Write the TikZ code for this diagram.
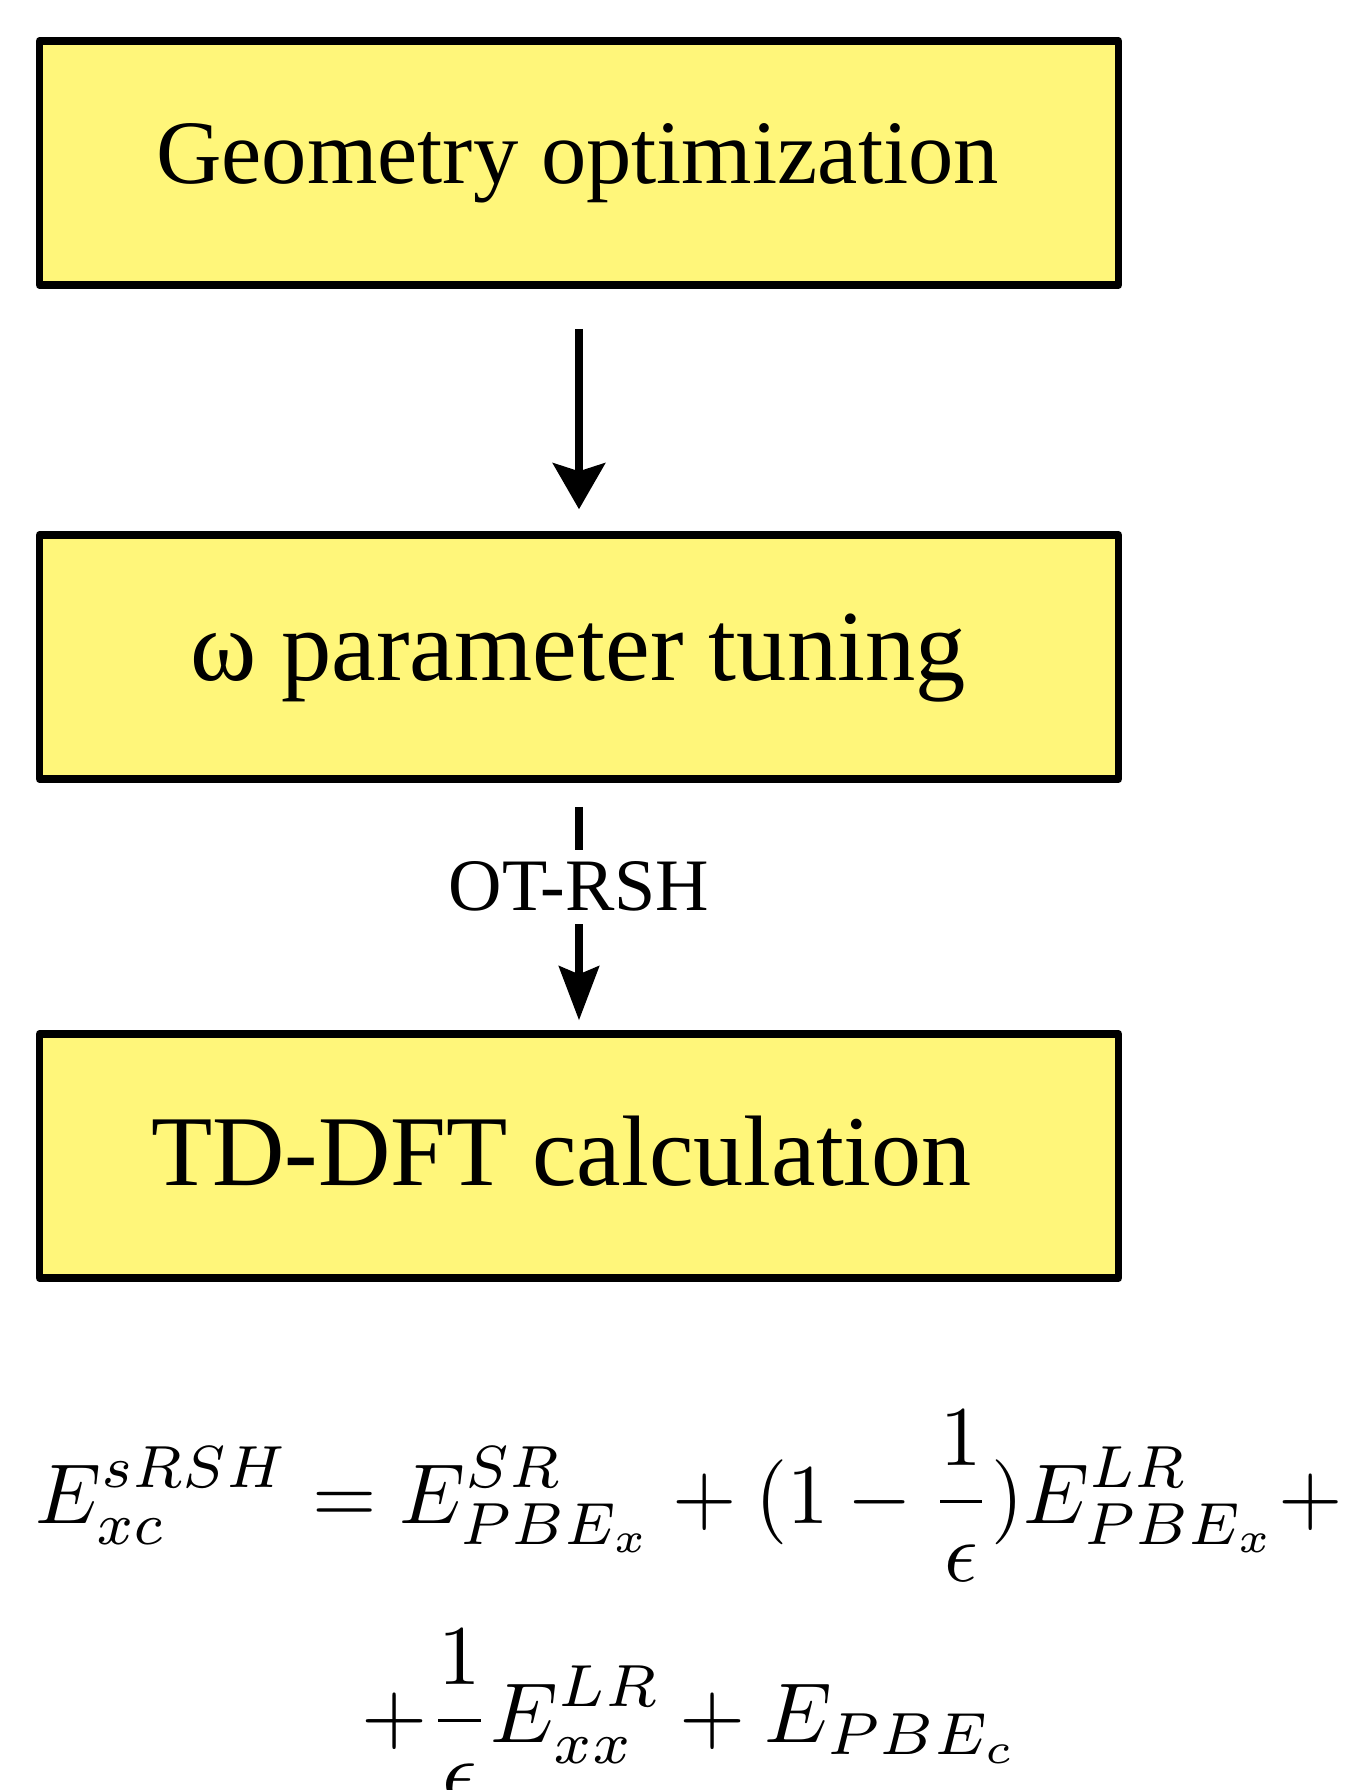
\documentclass[tikz,border=0pt]{standalone}
\usepackage[no-math]{fontspec}
\setmainfont{Liberation Serif}
\usetikzlibrary{arrows.meta}
\definecolor{boxyellow}{RGB}{255,246,122}
\begin{document}
\begin{tikzpicture}[x=0.5pt,y=-0.5pt,
  stepbox/.style={draw=black, fill=boxyellow, line width=3.75pt, line join=round,
    minimum width=539.5pt, minimum height=122pt, inner sep=0pt},
  steptext/.style={anchor=base, inner sep=0pt},
  flowarrow/.style={line width=4pt, -{Stealth[length=23pt, width=26pt, inset=4pt]}},
  tunearrow/.style={line width=3.7pt, -{Stealth[length=27pt, width=20pt, inset=4pt]}},
  lbl/.style={fill=white, inner xsep=2pt, inner ysep=6pt, font=\fontsize{37}{44}\selectfont},
  eqn/.style={anchor=base, inner sep=0pt}
]
\useasboundingbox (0,0) rectangle (1349,1790);
\node[stepbox] (geo) at (579,163) {};
\node[stepbox] (tune) at (579,657) {};
\node[stepbox] (td) at (579,1156) {};
\node[steptext, font=\fontsize{45.3}{54}\selectfont] (geotext) at (577.5,183) {Geometry optimization};
\node[steptext, font=\fontsize{50.3}{60}\selectfont] (tunetext) at (578,680) {ω parameter tuning};
\node[steptext, font=\fontsize{50.1}{60}\selectfont] (tdtext) at (561.5,1185) {TD-DFT calculation};
\draw[flowarrow, shorten <=20pt, shorten >=11pt] (geo.south) -- (tune.north);
\draw[tunearrow, shorten <=12pt, shorten >=5pt] (tune.south) -- node[lbl, pos=0.42] (ot) {OT-RSH} (td.north);
\node[eqn] (eq1) at (689,1523)
  {\scalebox{4.14}[4.25]{$\displaystyle E_{xc}^{sRSH} = E_{PBE_x}^{SR} + (1-\frac{1}{\epsilon})E_{PBE_x}^{LR} +$}};
\node[eqn] (eq2) at (691,1742)
  {\scalebox{4.25}{$\displaystyle +\frac{1}{\epsilon}E_{xx}^{LR} + E_{PBE_c}$}};
\end{tikzpicture}
\end{document}
